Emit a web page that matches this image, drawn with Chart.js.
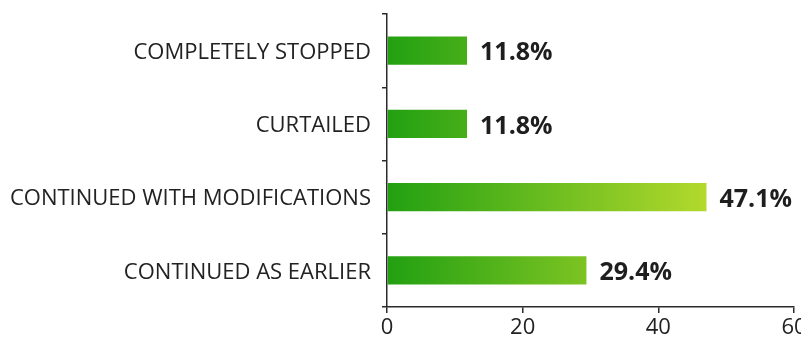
<!DOCTYPE html>
<html>
<head>
<meta charset="utf-8">
<script src="https://cdn.jsdelivr.net/npm/chart.js@4.4.1/dist/chart.umd.min.js"></script>
<style>
  html, body { margin: 0; padding: 0; background: #ffffff; overflow: hidden; }
  #wrap { position: relative; width: 801px; height: 337px; }
</style>
</head>
<body>
<div id="wrap"><canvas id="chart"></canvas></div>
<script>
// Survey responses: how work continued
const categories = [
  'COMPLETELY STOPPED',
  'CURTAILED',
  'CONTINUED WITH MODIFICATIONS',
  'CONTINUED AS EARLIER'
];
const shares = [11.8, 11.8, 47.1, 29.4];
const xTicks = [0, 20, 40, 60];

const FONT = '"Open Sans", "Noto Sans", sans-serif';
const AXIS_COLOR = '#2b2b2b';

// Horizontal gradient shared by all bars, from the zero line to the longest bar
function barGradient(ctx) {
  const chart = ctx.chart;
  const area = chart.chartArea;
  if (!area) return '#2aa012';
  const xScale = chart.scales.x;
  const x0 = xScale.getPixelForValue(0);
  const x1 = xScale.getPixelForValue(Math.max(...shares));
  const g = chart.ctx.createLinearGradient(x0, 0, x1, 0);
  g.addColorStop(0, '#22a012');
  g.addColorStop(1, '#b3d92c');
  return g;
}

// Draws the percentage next to the end of each bar
const valueLabels = {
  id: 'valueLabels',
  afterDatasetsDraw(chart) {
    const ctx = chart.ctx;
    const meta = chart.getDatasetMeta(0);
    ctx.save();
    ctx.font = 'bold 25px ' + FONT;
    ctx.fillStyle = '#1e1e1e';
    ctx.textAlign = 'left';
    ctx.textBaseline = 'middle';
    meta.data.forEach((bar, i) => {
      ctx.fillText(shares[i].toFixed(1) + '%', bar.x + 13, bar.y + 2.5);
    });
    ctx.restore();
  }
};

new Chart(document.getElementById('chart'), {
  type: 'bar',
  data: {
    labels: categories,
    datasets: [{
      data: shares,
      backgroundColor: barGradient,
      borderWidth: 0,
      barPercentage: 0.385,
      categoryPercentage: 1
    }]
  },
  options: {
    indexAxis: 'y',
    responsive: true,
    maintainAspectRatio: false,
    animation: false,
    layout: { padding: { top: 14, left: 0, right: 7, bottom: 0 } },
    plugins: {
      legend: { display: false },
      tooltip: { enabled: false }
    },
    scales: {
      x: {
        min: 0,
        max: 60,
        afterBuildTicks(scale) {
          scale.ticks = xTicks.map(v => ({ value: v }));
        },
        afterFit(scale) {
          scale.height = 30;
          scale.paddingLeft = 0;
          scale.paddingRight = 0;
        },
        border: { display: true, color: AXIS_COLOR, width: 1.5 },
        grid: {
          display: true,
          drawOnChartArea: false,
          drawTicks: true,
          tickLength: 6,
          color: AXIS_COLOR,
          lineWidth: 1.5
        },
        ticks: {
          color: '#222222',
          padding: 2,
          maxRotation: 0,
          font: { family: FONT, size: 22 }
        }
      },
      y: {
        afterFit(scale) {
          scale.width = 387;
          scale.paddingTop = 0;
          scale.paddingBottom = 0;
        },
        border: { display: true, color: AXIS_COLOR, width: 1.5 },
        grid: {
          display: true,
          offset: true,
          drawOnChartArea: false,
          drawTicks: true,
          tickLength: 5,
          color: AXIS_COLOR,
          lineWidth: 1.5
        },
        ticks: {
          color: '#222222',
          padding: 11,
          labelOffset: 2,
          font: { family: FONT, size: 22 }
        }
      }
    }
  },
  plugins: [valueLabels]
});
</script>
</body>
</html>
